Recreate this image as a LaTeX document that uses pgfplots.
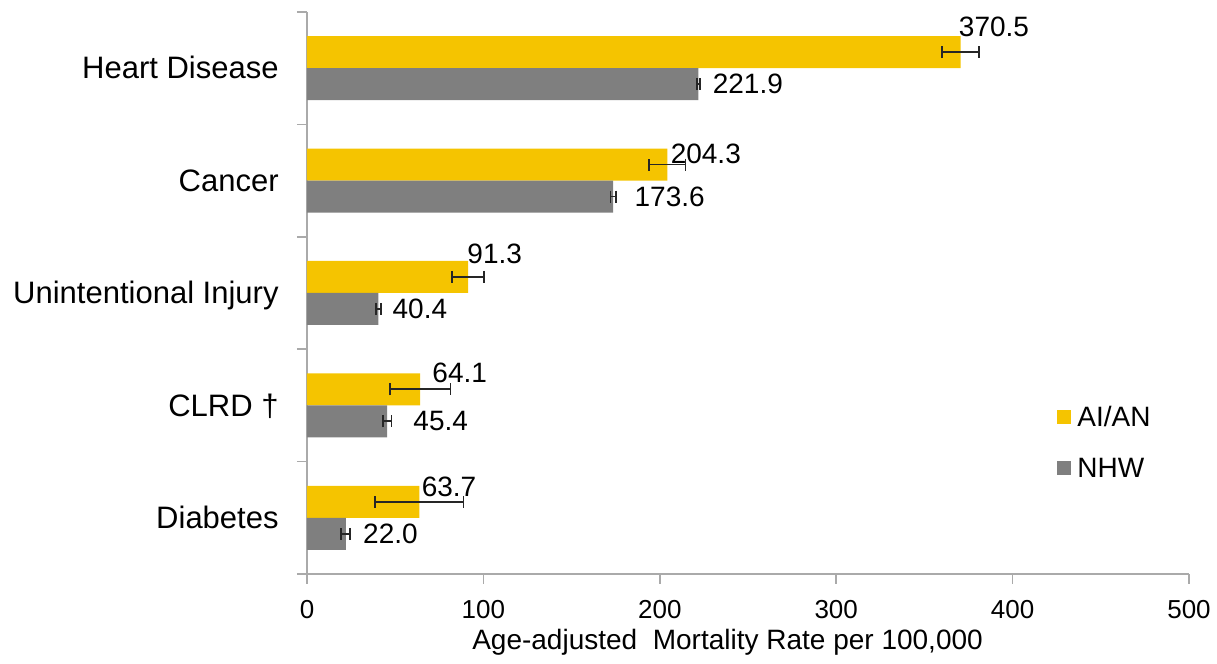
\documentclass[border=0pt]{standalone}
\usepackage{fontspec}
\setmainfont{Liberation Sans}
\usepackage{pgfplots}
\usepackage{pgfplotstable}
\pgfplotsset{compat=1.18}
\definecolor{aian}{RGB}{245,196,0}
\definecolor{nhw}{RGB}{127,127,127}
\definecolor{axgray}{RGB}{170,170,170}

\pgfplotstableread{
pos val err xoff yoff lab
4 370.5 10.5 -1 12.5 370.5
3 204.3 10.3 1.5 5.5 204.3
2 91.3 9.0 -0.5 11.5 91.3
1 64.1 17.2 6 8.5 64.1
0 63.7 25.0 1 7.5 63.7
}\tableA

\pgfplotstableread{
pos val err xoff yoff lab
4 221.9 1.0 7 0 221.9
3 173.6 1.5 10.5 0 173.6
2 40.4 1.5 7 0 40.4
1 45.4 2.5 13 0 45.4
0 22.0 2.5 8.5 0 22.0
}\tableB

\begin{document}
\begin{tikzpicture}
\begin{axis}[
  scale only axis, width=441pt, height=281pt,
  xbar, bar width=16pt,
  xmin=0, xmax=500, ymin=-0.5, ymax=4.5,
  axis x line=bottom, axis y line=left,
  axis line style={-, axgray, line width=0.8pt},
  xtick={0,100,...,500},
  ytick={0,1,2,3,4},
  yticklabels={Diabetes, CLRD †, Unintentional Injury, Cancer, Heart Disease},
  minor ytick={-0.5,0.5,1.5,2.5,3.5,4.5},
  tick align=outside,
  major tick length=5pt, minor tick length=5pt,
  tick style={axgray, line width=0.8pt},
  major y tick style={draw=none},
  /pgf/number format/assume math mode=true,
  x tick label style={font=\fontsize{13}{15}\selectfont, inner sep=0pt, anchor=base, yshift=-17.5pt},
  y tick label style={font=\fontsize{15.5}{18}\selectfont, inner sep=0pt, anchor=base east, xshift=-9pt, yshift=-5.4pt},
  xlabel={Age-adjusted~ Mortality Rate per 100,000},
  xlabel style={font=\fontsize{14}{17}\selectfont, anchor=base, inner sep=0pt, at={(axis description cs:0.4768,-0.1352)}},
  legend style={draw=none, fill=none, inner sep=0pt, at={(rel axis cs:0.8503,0.234)}, anchor=west,
    row sep=15.5pt, column sep=3pt, font=\fontsize{14}{17}\selectfont,
    nodes={inner sep=0pt, text height=10pt, text depth=0pt}},
  legend cell align=left,
]
\addplot[fill=aian, draw=none, bar shift=8pt,
  legend image code/.code={\fill[aian] (0pt,-3.5pt) rectangle (7pt,3.5pt);},
  point meta=explicit symbolic,
  visualization depends on={\thisrow{xoff}\as\xoff},
  visualization depends on={\thisrow{yoff}\as\yoff},
  nodes near coords,
  nodes near coords style={font=\fontsize{14}{17}\selectfont, text=black, inner sep=0pt, anchor=west, xshift=\xoff pt, yshift=\yoff pt},
  error bars/.cd, x dir=both, x explicit,
  error bar style={black!85, line width=0.9pt},
  error mark options={rotate=90, black!85, mark size=3pt, line width=0.9pt}]
  table[x=val, y=pos, x error=err, meta=lab] {\tableA};
\addlegendentry{AI/AN}
\addplot[fill=nhw, draw=none, bar shift=-8pt,
  legend image code/.code={\fill[nhw] (0pt,-3.5pt) rectangle (7pt,3.5pt);},
  point meta=explicit symbolic,
  visualization depends on={\thisrow{xoff}\as\xoff},
  visualization depends on={\thisrow{yoff}\as\yoff},
  nodes near coords,
  nodes near coords style={font=\fontsize{14}{17}\selectfont, text=black, inner sep=0pt, anchor=west, xshift=\xoff pt, yshift=\yoff pt},
  error bars/.cd, x dir=both, x explicit,
  error bar style={black!85, line width=0.9pt},
  error mark options={rotate=90, black!85, mark size=3pt, line width=0.9pt}]
  table[x=val, y=pos, x error=err, meta=lab] {\tableB};
\addlegendentry{NHW}
\end{axis}
\pgfresetboundingbox
\path[use as bounding box] (-153.5pt,-45pt) rectangle (455pt,287pt);
\end{tikzpicture}
\end{document}
